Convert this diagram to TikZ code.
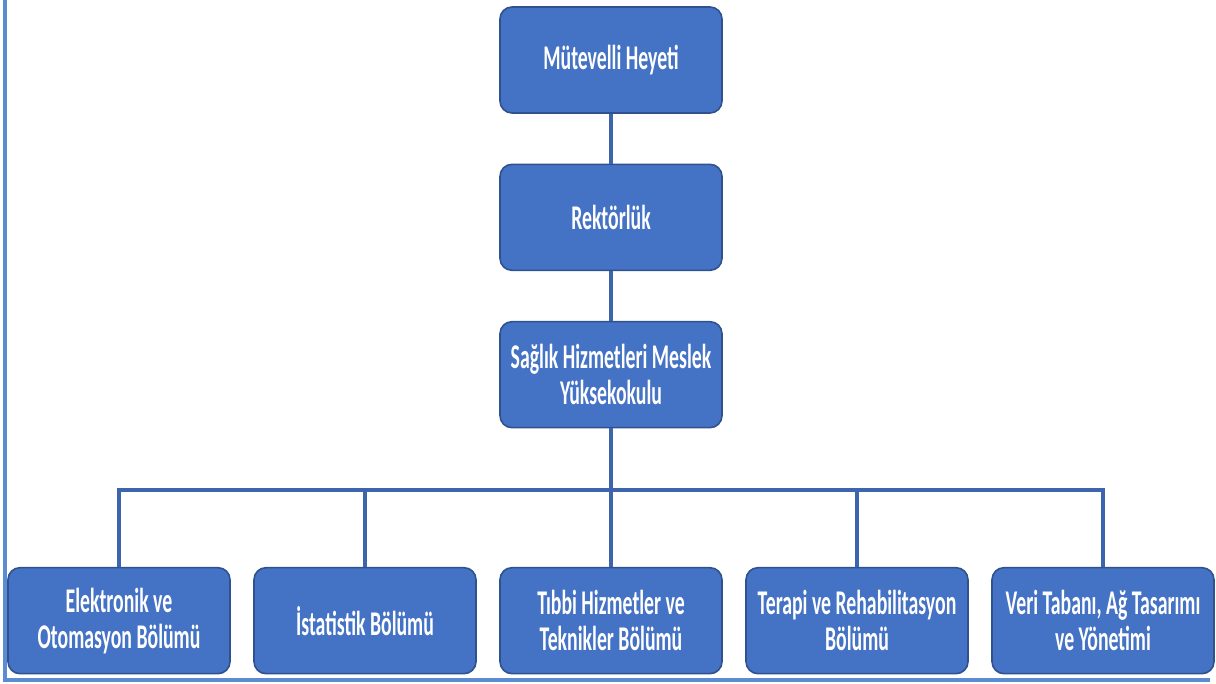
\documentclass[tikz,border=0pt]{standalone}
\usepackage{fontspec}
\setmainfont{Carlito}[FakeStretch=0.57]
\usetikzlibrary{arrows}

\definecolor{boxblue}{HTML}{4472C4}
\definecolor{boxedge}{HTML}{2F528F}
\definecolor{lineblue}{HTML}{3C65AE}
\definecolor{frameblue}{HTML}{5B8BD0}

\begin{document}
\begin{tikzpicture}[x=0.75pt,y=-0.75pt,node distance=118pt,
  unit/.style={draw=boxedge,line width=1.2pt,fill=boxblue,rounded corners=9pt,
    minimum width=166.5pt,minimum height=79.5pt,align=center,text=white,
    font=\fontsize{26}{27}\selectfont\bfseries},
  link/.style={draw=lineblue,line width=2.4pt}]
  \useasboundingbox (0,0) rectangle (1216,684);
  \draw[frameblue,line width=2.4pt] (5,0) -- (5,680) -- (1210,680);

  \node[unit]                   (mutevelli) at (611,60)      {Mütevelli Heyeti};
  \node[unit]                   (rektorluk) [below of=mutevelli] {Rektörlük};
  \node[unit]                   (syo)       [below of=rektorluk] {Sağlık Hizmetleri Meslek\\Yüksekokulu};

  \begin{scope}[node distance=184.5pt]
  \node[unit]                   (tibbi)      [below of=syo]     {Tıbbi Hizmetler ve\\Teknikler Bölümü};
  \node[unit]                   (istatistik) [left of=tibbi]    {İstatistik Bölümü};
  \node[unit]                   (elektronik) [left of=istatistik] {Elektronik ve\\Otomasyon Bölümü};
  \node[unit]                   (terapi)     [right of=tibbi]   {Terapi ve Rehabilitasyon\\Bölümü};
  \node[unit]                   (veri)       [right of=terapi]  {Veri Tabanı, Ağ Tasarımı\\ve Yönetimi};
  \end{scope}

  \coordinate (bar) at (611,490);

  \draw[link] (mutevelli) -- (rektorluk);
  \draw[link] (rektorluk) -- (syo);
  \draw[link] (syo.south) -- (bar) -| (elektronik.north);
  \draw[link] (bar) -| (istatistik.north);
  \draw[link] (bar) -- (tibbi.north);
  \draw[link] (bar) -| (terapi.north);
  \draw[link] (bar) -| (veri.north);
\end{tikzpicture}
\end{document}
